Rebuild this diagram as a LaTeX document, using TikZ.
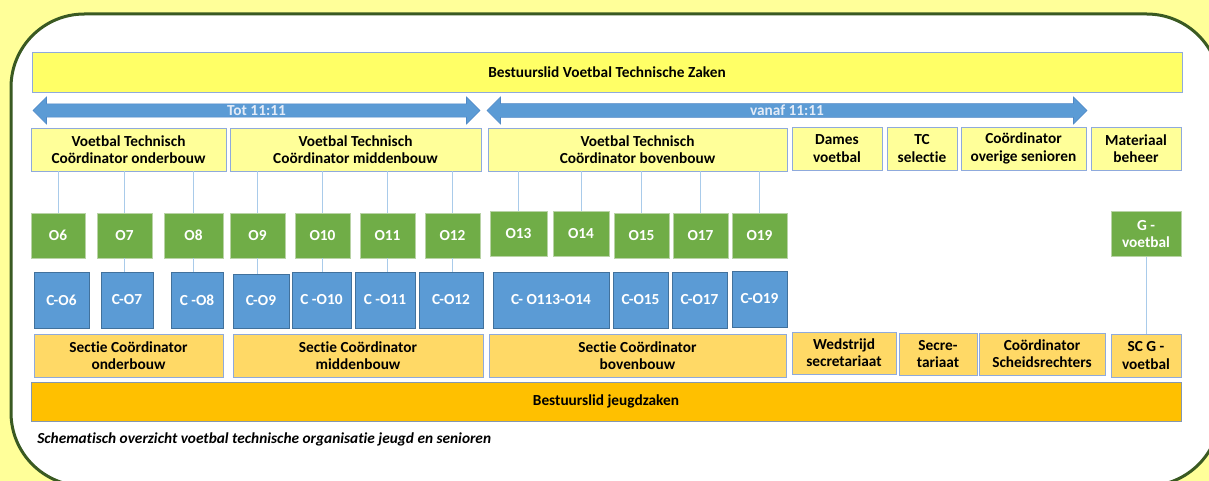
\documentclass[tikz,border=0pt]{standalone}
\usepackage{fontspec}
\setmainfont[Ligatures=NoCommon]{Carlito}
\usetikzlibrary{shapes,arrows.meta,positioning}

\definecolor{bgyellow}{HTML}{FFFF99}
\definecolor{frameGreen}{HTML}{3A5A22}
\definecolor{baryellow}{HTML}{FFFF66}
\definecolor{paleyellow}{HTML}{FFFF99}
\definecolor{boxline}{HTML}{8FAADC}
\definecolor{teamgreen}{HTML}{70AD47}
\definecolor{teamline}{HTML}{B9D3A6}
\definecolor{coachblue}{HTML}{5B9BD5}
\definecolor{coachline}{HTML}{41719C}
\definecolor{sectieorange}{HTML}{FFD966}
\definecolor{jeugdorange}{HTML}{FFC000}
\definecolor{jeugdline}{HTML}{8497B0}
\definecolor{linkblue}{HTML}{A9CBEA}
\definecolor{arrowblue}{HTML}{5B9BD5}
\definecolor{arrowline}{HTML}{4F88C6}
\definecolor{arrowtext}{HTML}{E3EBF7}

\begin{document}
\begin{tikzpicture}[x=0.75pt,y=-0.75pt]

\tikzset{box/.style = {shape=rectangle,draw,inner sep=0pt,align=center,font=\bfseries\fontsize{11.5}{13}\selectfont}}
\tikzset{vtc/.style = {box,draw=boxline,fill=paleyellow,minimum height=32.25pt}}
\tikzset{team/.style = {box,draw=teamline,fill=teamgreen,text=white,minimum height=33.75pt}}
\tikzset{coach/.style = {box,draw=coachline,fill=coachblue,text=white,minimum height=42pt}}
\tikzset{sectie/.style = {box,draw=boxline,fill=sectieorange,minimum height=32.25pt}}
\tikzset{link/.style = {draw=linkblue,line width=0.75pt}}
\tikzset{period/.style = {double arrow,draw=arrowline,fill=arrowblue,text=arrowtext,inner sep=0pt,
  minimum width=20.25pt,double arrow head extend=4.125pt,font=\bfseries\fontsize{11.5}{12}\selectfont}}

% background
\fill[bgyellow] (0,0) rectangle (1209,481);
\useasboundingbox (0,0) rectangle (1209,481);
\clip (0,0) rectangle (1209,481);
\draw[frameGreen,fill=white,line width=2.25pt,rounded corners=55pt]
  (11,14) rectangle (1220,486);

% top
\node[box,draw=boxline,fill=baryellow,minimum width=862.5pt,minimum height=30pt] (vtz) at (607,72) {Bestuurslid Voetbal Technische Zaken};
\node[period,minimum height=335.25pt] (tot) at (256.5,110.5) {Tot 11:11};
\node[period,minimum height=450pt] (vanaf) at (787,110.5) {vanaf 11:11};

% coordinators
\node[vtc,minimum width=146.25pt] (vtcO) at (128.5,149.5) {Voetbal Technisch\\Coördinator onderbouw};
\node[vtc,minimum width=188.25pt] (vtcM) at (355.5,149.5) {Voetbal Technisch\\Coördinator middenbouw};
\node[vtc,minimum width=224.25pt] (vtcB) at (637.5,149.5) {Voetbal Technisch\\Coördinator bovenbouw};
\node[vtc,minimum width=67.5pt] (dames) at (837,148.5) {Dames\\voetbal};
\node[vtc,minimum width=52.5pt] (tc) at (922,148.5) {TC\\selectie};
\node[vtc,minimum width=93.75pt] (overig) at (1023.5,148.5) {Coördinator\\overige senioren};
\node[vtc,minimum width=67.5pt] (materiaal) at (1136,149) {Materiaal\\beheer};

% teams
\node[team,minimum width=40.5pt] (o6) at (58,235.5) {O6};
\node[team,minimum width=41.25pt] (o7) at (124.5,235.5) {O7};
\node[team,minimum width=44.25pt] (o8) at (193.5,235.5) {O8};
\node[team,minimum width=41.25pt] (o9) at (257.5,235.5) {O9};
\node[team,minimum width=41.25pt] (o10) at (322.5,235.5) {O10};
\node[team,minimum width=41.25pt] (o11) at (387.5,235.5) {O11};
\node[team,minimum width=41.25pt] (o12) at (452.5,235.5) {O12};
\node[team,minimum width=42.75pt] (o13) at (518.5,234) {O13};
\node[team,minimum width=42pt] (o14) at (581,234) {O14};
\node[team,minimum width=41.25pt] (o15) at (641.5,235.5) {O15};
\node[team,minimum width=41.25pt] (o17) at (700.5,235.5) {O17};
\node[team,minimum width=41.25pt] (o19) at (759.5,235.5) {O19};
\node[team,minimum width=52.5pt] (gv) at (1146,234) {G -\\voetbal};

% coaches
\node[coach,minimum width=41.25pt] (co6) at (61.5,300) {C-O6};
\node[coach,minimum width=39pt] (co7) at (127,300) {C-O7};
\node[coach,minimum width=39pt] (co8) at (197,300) {C -O8};
\node[coach,minimum width=42pt,minimum height=40.5pt] (co9) at (261,301) {C-O9};
\node[coach,minimum width=44.25pt] (co10) at (321.5,300) {C -O10};
\node[coach,minimum width=45pt] (co11) at (385,300) {C -O11};
\node[coach,minimum width=48pt] (co12) at (451,300) {C-O12};
\node[coach,minimum width=87pt] (co13) at (551,300) {C- O113-O14};
\node[coach,minimum width=41.25pt] (co15) at (640.5,300) {C-O15};
\node[coach,minimum width=41.25pt] (co17) at (699.5,300) {C-O17};
\node[coach,minimum width=41.25pt] (co19) at (759.5,299) {C-O19};

% secties
\node[sectie,minimum width=141.75pt] (sO) at (128.5,355.5) {Sectie Coördinator\\onderbouw};
\node[sectie,minimum width=187.5pt] (sM) at (358,355.5) {Sectie Coördinator\\middenbouw};
\node[sectie,minimum width=222.75pt] (sB) at (637.5,355.5) {Sectie Coördinator\\bovenbouw};
\node[sectie,minimum width=78pt,minimum height=31.5pt] (wed) at (844,353) {Wedstrijd\\secretariaat};
\node[sectie,minimum width=58.5pt,minimum height=31.5pt] (secr) at (938,354) {Secre-\\tariaat};
\node[sectie,minimum width=94.5pt,minimum height=31.5pt] (scheids) at (1042,354) {Coördinator\\Scheidsrechters};
\node[sectie,minimum width=52.5pt] (scg) at (1146,355.5) {SC G -\\voetbal};

\node[box,draw=jeugdline,fill=jeugdorange,minimum width=862.5pt,minimum height=29.25pt] (jeugd) at (606,401.5) {Bestuurslid jeugdzaken};
\node[anchor=west,inner sep=0pt,font=\bfseries\itshape\fontsize{11.5}{13}\selectfont] (caption) at (37,439) {Schematisch overzicht voetbal technische organisatie jeugd en senioren};

%edges
\foreach \t/\c in {o6/vtcO,o7/vtcO,o8/vtcO,o9/vtcM,o10/vtcM,o11/vtcM,o12/vtcM,o13/vtcB,o14/vtcB,o15/vtcB,o17/vtcB,o19/vtcB}
  \draw[link] (\t.north) -- (\t.north |- \c.south);
\foreach \t/\c in {o7/co7,o8/co8,o9/co9,o10/co10,o11/co11,o12/co12}
  \draw[link] (\t.south) -- (\t.south |- \c.north);
\draw[link] (gv.south) -- (scg.north);

\end{tikzpicture}
\end{document}
